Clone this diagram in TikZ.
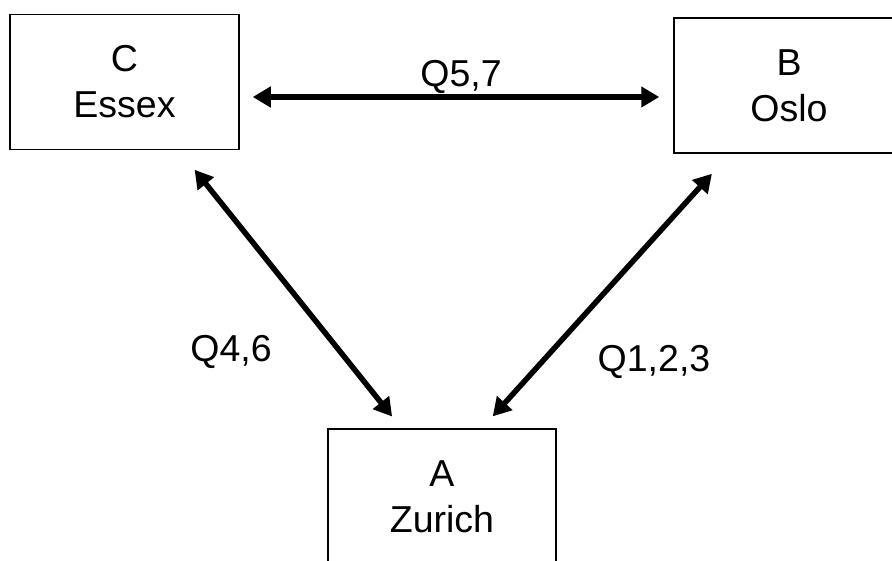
\documentclass[tikz,border=0pt]{standalone}
\usepackage{fontspec}
\setmainfont{Liberation Sans}
\usetikzlibrary{arrows.meta}
\newcommand{\bigtext}{\fontsize{37.5}{46}\selectfont}
\tikzset{
  site/.style={draw, line width=1.5pt, minimum width=229pt, minimum height=135pt,
    inner sep=0pt, align=center, font=\bigtext},
  link/.style={line width=5.5pt,
    {Triangle[length=18pt,width=20pt]}-{Triangle[length=18pt,width=20pt]}},
  qlabel/.style={inner sep=0pt, font=\bigtext}
}
\begin{document}
\begin{tikzpicture}[x=1pt,y=-1pt]
\useasboundingbox (0,0) rectangle (892,561);
% the three sites
\node[site] (C) at (124.5,82) {C\\Essex};
\node[site,minimum width=230pt] (B) at (789,85.5) {B\\Oslo};
\node[site,minimum width=228pt] (A) at (442,496.5) {A\\Zurich};
% links between them
\draw[link,shorten <=13pt,shorten >=14pt] ([yshift=-15pt]C.east) -- ([yshift=-11.5pt]B.west);
\draw[link,shorten <=25pt,shorten >=15pt] ([xshift=54.5pt]C.south) -- ([xshift=-40.5pt]A.north);
\draw[link,shorten <=27pt,shorten >=16pt] ([xshift=-59pt]B.south) -- ([xshift=40pt]A.north);
% question labels
\node[qlabel] (q57) at (461,77) {Q5,7};
\node[qlabel] (q46) at (231,352) {Q4,6};
\node[qlabel] (q123) at (654,362) {Q1,2,3};
\end{tikzpicture}
\end{document}
